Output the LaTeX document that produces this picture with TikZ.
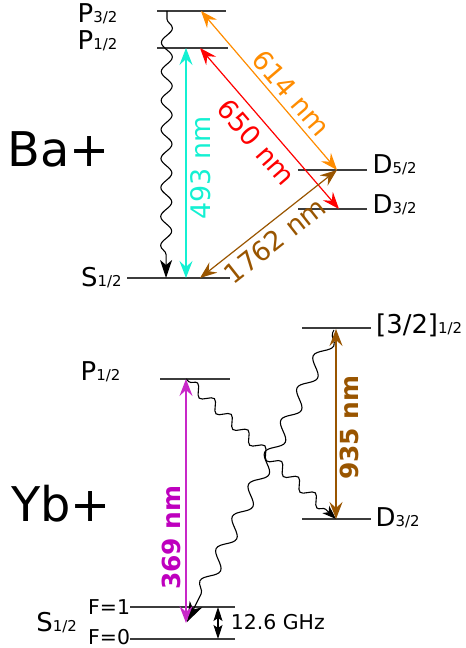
\documentclass[tikz,border=0pt]{standalone}
\usepackage{fontspec}
\setmainfont{DejaVu Sans}
\usetikzlibrary{arrows.meta,decorations.pathmorphing}

\definecolor{levelgray}{RGB}{60,60,60}
\definecolor{cyanline}{RGB}{20,240,210}
\definecolor{orangeline}{RGB}{255,140,0}
\definecolor{redline}{RGB}{255,0,0}
\definecolor{brownline}{RGB}{153,85,0}
\definecolor{magline}{RGB}{200,40,200}
\definecolor{magtext}{RGB}{190,0,190}

\newcommand\lvsub[1]{{\fontsize{15}{18}\selectfont #1}}

\tikzset{
  level/.style={draw=levelgray, line width=1.6bp},
  trans/.style={line width=1.2bp,
    {Stealth[length=17bp,width=13bp,inset=6bp]}-{Stealth[length=17bp,width=13bp,inset=6bp]}},
  decay/.style={draw=black, line width=1.1bp, decorate},
  lbl/.style={inner sep=0pt, anchor=base west, font=\fontsize{26}{30}\selectfont},
  small/.style={inner sep=0pt, anchor=base west, font=\fontsize{20.5}{24}\selectfont},
  ion/.style={inner sep=0pt, anchor=base west, font=\fontsize{48}{56}\selectfont},
  wl/.style={inner sep=0pt, sloped, font=\fontsize{27}{32}\selectfont},
  wlb/.style={inner sep=0pt, sloped, font=\fontsize{25}{30}\selectfont\bfseries},
}

\begin{document}
\begin{tikzpicture}[x=1bp, y=-1bp]
\useasboundingbox (0,0) rectangle (466,648);

% ---------------- Ba+ ----------------
\node[ion] (baion) at (7,167) {Ba+};

\draw[level] (157,11) -- (226,11);
\draw[level] (157,48) -- (228,48);
\draw[level] (127,278) -- (230,278);
\draw[level] (298,170) -- (367,170);
\draw[level] (298,209) -- (367,209);

\node[lbl] (baP32) at (77.5,23) {P\lvsub{3/2}};
\node[lbl] (baP12) at (77.5,50) {P\lvsub{1/2}};
\node[lbl] (baS12) at (81,286) {S\lvsub{1/2}};
\node[lbl] (baD52) at (372.5,174) {D\lvsub{5/2}};
\node[lbl] (baD32) at (372.5,213) {D\lvsub{3/2}};

\coordinate (baWtop) at (167,11);
\coordinate (baWbot) at (166,278);
\coordinate (baC1) at (186,48);
\coordinate (baC2) at (186,278);
\coordinate (baO1) at (201,11);
\coordinate (baO2) at (337,170);
\coordinate (baR1) at (200,48);
\coordinate (baR2) at (339,209);
\coordinate (baB1) at (200,278);
\coordinate (baB2) at (337,170);

% spontaneous decay P -> S
\draw[decay, -{Stealth[length=18bp,width=12bp,inset=5bp]},
      decoration={snake, amplitude=5.5bp, segment length=29bp, pre length=8bp, post length=18bp}]
  (baWtop) -- (baWbot);

\draw[trans, cyanline] (baC2) -- node[wl, pos=0.478, below=4bp] (l493) {493 nm} (baC1);
\draw[trans, orangeline] (baO1) -- node[wl, pos=0.58, above=4.5bp] (l614) {614 nm} (baO2);
\draw[trans, redline] (baR1) -- node[wl, pos=0.51, below=8bp] (l650) {650 nm} (baR2);
\draw[trans, brownline] (baB1) -- node[wl, pos=0.47, below=6bp] (l1762) {1762 nm} (baB2);

% ---------------- Yb+ ----------------
\node[ion] (ybion) at (11,521) {Yb+};

\draw[level] (302,328) -- (371,328);
\draw[level] (160,379) -- (230,379);
\draw[level] (302,519) -- (371,519);
\draw[level] (130,607) -- (235,607);
\draw[level] (130,639) -- (235,639);

\node[lbl] (ybB) at (376,333) {[3/2]\lvsub{1/2}};
\node[lbl] (ybP12) at (80.5,380) {P\lvsub{1/2}};
\node[lbl] (ybD32) at (375.5,526) {D\lvsub{3/2}};
\node[lbl] (ybS12) at (36.3,631) {S\lvsub{1/2}};
\node[small] (ybF1) at (88,614) {F=1};
\node[small] (ybF0) at (88,644) {F=0};
\node[small] (ybHf) at (230.7,629) {12.6 GHz};

\coordinate (ybPm) at (186,379);
\coordinate (ybSm) at (186,623);
\coordinate (ybBt) at (336,329);
\coordinate (ybDt) at (336,519);
\coordinate (ybWs) at (334,330);
\coordinate (ybWe) at (187,622);
\coordinate (ybHa) at (218,607);
\coordinate (ybHb) at (218,639);

% decays P -> D and [3/2] -> S
\draw[decay, -{Stealth[length=14bp,width=10bp,inset=4bp]},
      decoration={snake, amplitude=5bp, segment length=23bp, pre length=4bp, post length=14bp}]
  (ybPm) -- (ybDt);
\draw[decay, -{Stealth[length=20bp,width=14bp,inset=6bp]},
      decoration={snake, amplitude=7bp, segment length=36bp, pre length=3bp, post length=20bp}]
  (ybWs) -- (ybWe);

\draw[trans, magline] (ybSm) -- node[wlb, pos=0.35, above=5bp, text=magtext] (l369) {369 nm} (ybPm);
\draw[trans, brownline] (ybDt) -- node[wlb, pos=0.48, below=3bp] (l935) {935 nm} (ybBt);

% hyperfine splitting
\draw[line width=1.1bp, {Stealth[length=14bp,width=9bp,inset=3bp]}-{Stealth[length=14bp,width=9bp,inset=3bp]}]
  (ybHa) -- (ybHb);
\end{tikzpicture}
\end{document}
